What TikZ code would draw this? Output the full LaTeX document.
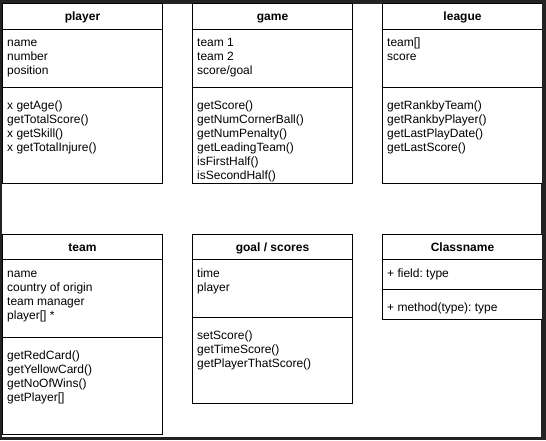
\documentclass[tikz,border=0pt]{standalone}
\usepackage{fontspec}
\setmainfont{Liberation Sans}
\usetikzlibrary{calc}
\definecolor{screenedge}{HTML}{232323}
\frenchspacing

% One UML class: name, x, y (top left), height, separator offset, title, fields, methods
\newcommand\umlclass[8]{%
  \node[classbox, minimum height=#4pt] (#1) at (#2,#3) {};
  \draw[rule] ($(#1.north west)+(0,26)$) -- ($(#1.north east)+(0,26)$);
  \draw[rule] ($(#1.north west)+(0,#5)$) -- ($(#1.north east)+(0,#5)$);
  \node[classtitle] (#1-title) at ($(#1.north)+(0,17.5)$) {#6};
  \node[members] (#1-fields) at ($(#1.north west)+(5,26+17.5-9.8)$) {\strut #7};
  \node[members] (#1-methods) at ($(#1.north west)+(5,#5+22-9.8)$) {\strut #8};
}

\begin{document}
\begin{tikzpicture}[x=1pt, y=-1pt,
  classbox/.style={draw=black, line width=1pt, fill=white, anchor=north west,
                   inner sep=0pt, minimum width=160pt},
  classtitle/.style={font=\bfseries\fontsize{12}{14}\selectfont, anchor=base, inner sep=0pt},
  members/.style={font=\fontsize{12}{14}\selectfont, align=left, anchor=north west, inner sep=0pt},
  rule/.style={draw=black, line width=1pt}]

  % window frame and canvas
  \fill[screenedge] (0,0) rectangle (546,440);
  \fill[white] (1.5,3.5) rectangle (541,436.5);

  % top row
  \umlclass{player}{2}{3}{180}{84}{player}
    {name\\number\\position}
    {x getAge()\\getTotalScore()\\x getSkill()\\x getTotalInjure()}
  \umlclass{game}{192}{3}{180}{84}{game}
    {team 1\\team 2\\score/goal}
    {getScore()\\getNumCornerBall()\\getNumPenalty()\\getLeadingTeam()\\isFirstHalf()\\isSecondHalf()}
  \umlclass{league}{382}{3}{180}{84}{league}
    {team[]\\score}
    {getRankbyTeam()\\getRankbyPlayer()\\getLastPlayDate()\\getLastScore()}

  % bottom row
  \umlclass{team}{2}{233.5}{200}{104}{team}
    {name\\country of origin\\team manager\\player[] *}
    {getRedCard()\\getYellowCard()\\getNoOfWins()\\getPlayer[]}
  \umlclass{goal}{192}{233.5}{169.5}{84}{goal / scores}
    {time\\player}
    {setScore()\\getTimeScore()\\getPlayerThatScore()}
  \umlclass{classname}{382}{233.5}{85.5}{56}{Classname}
    {+ field: type}
    {+ method(type): type}

  % keep the frame's right edge on top
  \fill[screenedge] (541.5,0) rectangle (546,440);
\end{tikzpicture}
\end{document}
